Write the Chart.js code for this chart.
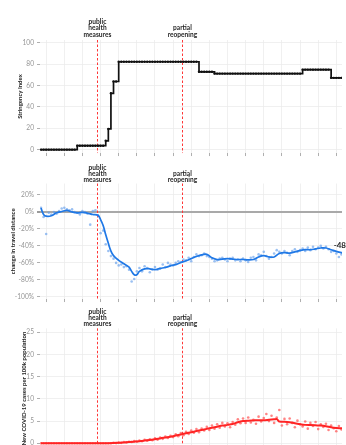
<!DOCTYPE html>
<html>
<head>
<meta charset="utf-8">
<script src="https://cdn.jsdelivr.net/npm/chart.js@4.4.1/dist/chart.umd.min.js"></script>
<style>
  html, body { margin: 0; padding: 0; background: #fff; overflow: hidden; width: 346px; height: 445px; }
  canvas { position: absolute; left: 0; }
</style>
</head>
<body>
<canvas id="stringency" width="346" height="160" style="top:0px"></canvas>
<canvas id="mobility" width="346" height="146" style="top:160px"></canvas>
<canvas id="cases" width="346" height="150" style="top:306px"></canvas>
<script>
// days since start of series, weekly tick marks
const tickDays = [2, 9, 16, 23, 30, 37, 44, 51, 58, 65, 72, 79, 86, 93, 100, 107, 114];
const eventDays = [21.8, 54.6];
const eventLabels = [['public', 'health', 'measures'], ['partial', 'reopening']];

// stringency index, one value per day (step line)
const stringency = [
  0, 0, 0, 0, 0, 0, 0, 0, 0, 0, 0, 0, 0, 0,
  3.7, 3.7, 3.7, 3.7, 3.7, 3.7, 3.7, 3.7, 3.7, 3.7, 3.7,
  8.3, 19.4, 52.8, 63.9, 63.9,
  82.4, 82.4, 82.4, 82.4, 82.4, 82.4, 82.4, 82.4, 82.4, 82.4,
  82.4, 82.4, 82.4, 82.4, 82.4, 82.4, 82.4, 82.4, 82.4, 82.4,
  82.4, 82.4, 82.4, 82.4, 82.4, 82.4, 82.4, 82.4, 82.4, 82.4, 82.4,
  73, 73, 73, 73, 73, 73,
  71.3, 71.3, 71.3, 71.3, 71.3, 71.3, 71.3, 71.3, 71.3, 71.3,
  71.3, 71.3, 71.3, 71.3, 71.3, 71.3, 71.3, 71.3, 71.3, 71.3,
  71.3, 71.3, 71.3, 71.3, 71.3, 71.3, 71.3, 71.3, 71.3, 71.3,
  71.3, 71.3, 71.3, 71.3,
  75, 75, 75, 75, 75, 75, 75, 75, 75, 75, 75,
  67.3, 67.3, 67.3, 67.3, 67.3, 67.3, 67.3
];

// change in travel distance (%), daily points
const mobilityDaily = [
  5, -6, -26, -1, -3, 0, -2, 1, 4, 5,
  3, 2, 3, 0, -1, -3, 1, 0, -2, -15,
  1, 2, -4, -25, -22, -38, -46, -52, -55, -60,
  -63, -62, -65, -64, -68, -82, -79, -70, -66, -70,
  -64, -66, -71, -68, -65, -68, -67, -62, -65, -60,
  -62, -63, -60, -58, -59, -56, -57, -54, -58, -53,
  -50, -52, -51, -49, -52, -53, -55, -58, -57, -55,
  -54, -56, -58, -55, -54, -57, -56, -58, -55, -57,
  -59, -54, -53, -57, -50, -51, -47, -52, -55, -53,
  -49, -45, -47, -49, -46, -48, -51, -46, -44, -47,
  -45, -43, -46, -42, -45, -41, -44, -42, -40, -43,
  -41, -44, -47, -46, -49, -53, -50, -48
];
// smoothed trend
const mobilityTrendDays = [
  0, 1, 2, 4, 6, 8, 10, 12, 14, 16, 18, 20, 22, 23, 24, 25, 26, 27, 28, 30,
  32, 34, 35, 36, 37, 38, 40, 42, 44, 46, 48, 50, 52, 54, 56, 58, 60, 62, 64, 66,
  68, 70, 72, 74, 76, 78, 80, 82, 84, 86, 88, 90, 92, 94, 96, 98, 100, 102, 104, 106,
  108, 110, 112, 114, 116, 118
];
const mobilityTrend = [
  4.5, -3, -5, -4.5, -1, 0.5, 1.8, 0, -1, -0.5, -1.5, -3, -4, -9, -16, -27, -37, -46, -51.5, -57,
  -61, -65, -70, -74, -74, -70, -67, -67, -68, -66.5, -65.5, -63.5, -62, -59.5, -57.5, -55, -52.5, -50.5, -50, -54,
  -56, -55.5, -55, -55.5, -56, -56, -56.5, -56, -53, -51.5, -53, -53, -49, -48, -48.5, -47, -45.5, -44.5, -44.5, -43.5,
  -42.5, -42.5, -44.5, -46.5, -48, -49
];
const mobilityEndLabel = '-48%';

// new COVID-19 cases per 100k, daily points
const casesDaily = [
  0, 0, 0, 0, 0, 0, 0, 0, 0, 0,
  0, 0, 0, 0, 0, 0, 0, 0, 0, 0,
  0, 0, 0, 0, 0, 0, 0, 0, 0.1, 0.05,
  0.15, 0.1, 0.3, 0.2, 0.35, 0.3, 0.5, 0.4, 0.6, 0.45,
  0.8, 0.6, 0.9, 0.7, 1.1, 0.8, 1.3, 1.0, 1.5, 1.2,
  1.7, 1.4, 2.0, 1.6, 2.3, 1.8, 2.6, 2.1, 2.9, 2.4,
  3.2, 2.5, 3.3, 2.9, 3.7, 3.0, 4.0, 3.3, 4.3, 3.5,
  4.6, 3.8, 4.5, 3.6, 4.8, 4.2, 5.4, 4.5, 5.6, 4.6,
  5.8, 4.7, 5.3, 4.4, 6.0, 4.9, 5.7, 6.6, 5.0, 6.2,
  4.6, 5.8, 7.5, 4.0, 5.5, 4.3, 5.6, 4.6, 3.6, 5.1,
  4.3, 3.8, 4.9, 3.3, 4.6, 3.9, 4.8, 3.2, 4.3, 3.7,
  4.4, 3.0, 4.0, 3.4, 2.7, 3.9, 3.1, 3.5
];
const casesTrendDays = [
  0, 10, 20, 26, 28, 30, 32, 34, 36, 38, 40, 42, 44, 46, 48, 50, 52, 54, 56, 58,
  60, 62, 64, 66, 68, 70, 72, 74, 76, 78, 80, 82, 84, 86, 88, 90, 91, 92, 94, 96,
  98, 100, 102, 104, 106, 108, 110, 112, 114, 116, 118
];
const casesTrend = [
  0, 0, 0, 0.02, 0.05, 0.1, 0.18, 0.27, 0.37, 0.48, 0.62, 0.77, 0.93, 1.1, 1.3, 1.5, 1.75, 2.0, 2.25, 2.5,
  2.75, 3.0, 3.25, 3.5, 3.75, 4.0, 4.15, 4.35, 4.75, 5.0, 5.1, 5.15, 5.2, 5.2, 5.3, 5.4, 5.45, 4.9, 4.85, 4.75,
  4.5, 4.3, 4.15, 4.1, 4.05, 4.0, 3.85, 3.6, 3.45, 3.4, 3.35
];

const gridColor = '#ececec';
Chart.defaults.font.family = 'Lato';

const daily = arr => arr.map((v, i) => ({ x: i, y: v }));
const paired = (xs, ys) => xs.map((x, i) => ({ x: x, y: ys[i] }));

const markerPlugin = {
  id: 'markers',
  beforeDatasetsDraw(chart) {
    const { ctx, chartArea, scales } = chart;
    ctx.save();
    ctx.strokeStyle = '#ff3636';
    ctx.lineWidth = 1;
    ctx.setLineDash([2.5, 2]);
    eventDays.forEach(d => {
      const x = Math.round(scales.x.getPixelForValue(d)) + 0.5;
      ctx.beginPath();
      ctx.moveTo(x, chartArea.top);
      ctx.lineTo(x, chartArea.bottom);
      ctx.stroke();
    });
    ctx.restore();
  },
  afterDraw(chart, args, opts) {
    const { ctx, scales } = chart;
    ctx.save();
    ctx.fillStyle = '#262626';
    ctx.font = 'bold 6.6px Lato';
    ctx.textAlign = 'center';
    ctx.textBaseline = 'middle';
    eventDays.forEach((d, k) => {
      const x = scales.x.getPixelForValue(d);
      const lines = eventLabels[k];
      lines.forEach((t, j) => {
        ctx.fillText(t, x, opts.labelBase - (lines.length - 1 - j) * 6.2);
      });
    });
    if (opts.endLabel) {
      const ds = chart.data.datasets[0].data;
      const last = ds[ds.length - 1];
      ctx.font = 'bold 8px Lato';
      ctx.textAlign = 'left';
      ctx.fillText(opts.endLabel, scales.x.getPixelForValue(last.x) - 13, scales.y.getPixelForValue(last.y) - 8);
    }
    ctx.restore();
  }
};

function panel(id, cfg) {
  return new Chart(document.getElementById(id), {
    type: 'line',
    data: { datasets: cfg.datasets },
    options: {
      responsive: false,
      animation: false,
      devicePixelRatio: 1,
      layout: { padding: { top: cfg.top, left: cfg.padLeft, right: 0, bottom: 0 } },
      plugins: {
        legend: { display: false },
        tooltip: { enabled: false },
        markers: { labelBase: cfg.labelBase, endLabel: cfg.endLabel }
      },
      scales: {
        x: {
          type: 'linear',
          min: -0.38,
          max: 116.2,
          ticks: { display: false },
          grid: { color: gridColor, lineWidth: 0.8, tickColor: '#9a9a9a', tickLength: 3 },
          border: { display: false },
          afterBuildTicks: s => { s.ticks = tickDays.map(v => ({ value: v })); },
          afterFit: s => { s.height = cfg.xAxisH; }
        },
        y: {
          type: 'linear',
          min: cfg.yMin,
          max: cfg.yMax,
          ticks: {
            autoSkip: false,
            padding: 3,
            color: '#959595',
            font: { size: 6.6 },
            callback: v => v + cfg.unit
          },
          grid: {
            color: c => (cfg.zeroLine && c.tick && c.tick.value === 0) ? '#a9a9a9' : gridColor,
            lineWidth: c => (cfg.zeroLine && c.tick && c.tick.value === 0) ? 2 : 0.8,
            tickColor: '#9a9a9a',
            tickLength: 3
          },
          border: { display: false },
          title: {
            display: true,
            text: cfg.title,
            color: '#222',
            font: { size: 6, weight: 'bold' },
            padding: 0
          },
          afterBuildTicks: s => { s.ticks = cfg.yTicks.map(v => ({ value: v })); },
          afterFit: s => { s.width = 40 - cfg.padLeft; }
        }
      }
    },
    plugins: [markerPlugin]
  });
}

panel('stringency', {
  top: 40, padLeft: 16.4, xAxisH: 5.5, labelBase: 34.4,
  yMin: -3.2, yMax: 102.8, yTicks: [0, 20, 40, 60, 80, 100], unit: '',
  title: 'Stringency Index',
  datasets: [{
    data: daily(stringency),
    borderColor: '#111',
    borderWidth: 1.7,
    stepped: true,
    pointRadius: 1.2,
    pointBorderWidth: 0,
    pointBackgroundColor: '#111'
  }]
});

panel('mobility', {
  top: 23.5, padLeft: 9.7, xAxisH: 5.5, labelBase: 20,
  yMin: -102.6, yMax: 33.5, yTicks: [-100, -80, -60, -40, -20, 0, 20], unit: '%',
  title: 'change in travel distance', zeroLine: true, endLabel: mobilityEndLabel,
  datasets: [{
    data: paired(mobilityTrendDays, mobilityTrend),
    borderColor: '#1f78e6',
    borderWidth: 1.7,
    pointRadius: 0,
    tension: 0.4
  }, {
    data: daily(mobilityDaily),
    showLine: false,
    pointRadius: 1.3,
    pointBorderWidth: 0,
    pointBackgroundColor: 'rgba(100,158,235,0.65)'
  }]
});

panel('cases', {
  top: 22.3, padLeft: 20.4, xAxisH: 7.1, labelBase: 18.3,
  yMin: -1.26, yMax: 25.9, yTicks: [0, 5, 10, 15, 20, 25], unit: '',
  title: 'New COVID-19 cases per 100k population',
  datasets: [{
    data: paired(casesTrendDays, casesTrend),
    borderColor: '#ff2424',
    borderWidth: 2,
    pointRadius: 0,
    cubicInterpolationMode: 'monotone'
  }, {
    data: daily(casesDaily),
    showLine: false,
    pointRadius: 1.3,
    pointBorderWidth: 0,
    pointBackgroundColor: 'rgba(255,80,80,0.7)'
  }]
});
</script>
</body>
</html>
